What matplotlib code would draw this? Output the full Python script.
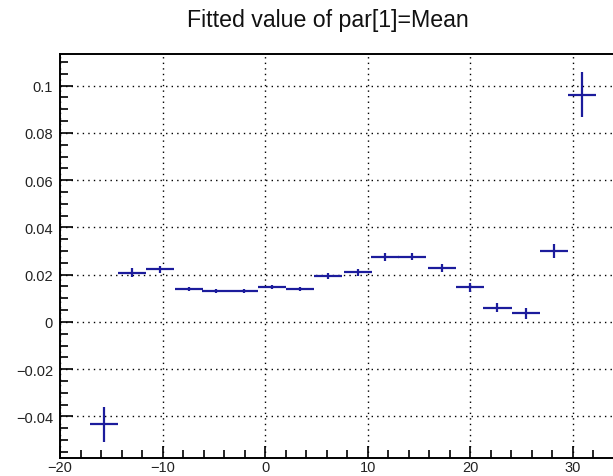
import matplotlib.pyplot as plt
from matplotlib.ticker import MultipleLocator

# bin centres, fitted mean and its error
centres = [-15.75, -12.97, -10.25, -7.45, -4.75, -2.05, 0.7, 3.4, 6.15,
           9.05, 11.7, 14.35, 17.25, 19.95, 22.65, 25.45, 28.2, 30.85]
half_width = [1.37] * len(centres)
means = [-0.0434, 0.0209, 0.0222, 0.0138, 0.0131, 0.0131, 0.0147, 0.0138, 0.0194,
         0.0211, 0.0275, 0.0275, 0.0229, 0.0146, 0.0061, 0.0037, 0.0301, 0.0962]
errors = [0.0074, 0.0020, 0.0015, 0.0009, 0.0009, 0.0008, 0.0009, 0.0008, 0.0012,
          0.0015, 0.0016, 0.0015, 0.0016, 0.0020, 0.0020, 0.0024, 0.0030, 0.0094]

plt.rcParams['font.family'] = ['Liberation Sans', 'DejaVu Sans']


def fmt(v, pos):
    if abs(v) < 1e-9:
        return "0"
    s = f"{abs(v):g}"
    return ("\u2212" + s) if v < 0 else s


fig = plt.figure(figsize=(6.13, 4.77), dpi=100)
ax = fig.add_axes([60 / 613, 18 / 477, 559 / 613, 404 / 477])

ax.errorbar(centres, means, xerr=half_width, yerr=errors, fmt='none',
            ecolor='#1c1c9c', elinewidth=1.6, capsize=0, zorder=3)

ax.set_xlim(-20, 34.5)
ax.set_ylim(-0.0576, 0.1134)

ax.xaxis.set_major_locator(MultipleLocator(10))
ax.xaxis.set_minor_locator(MultipleLocator(2))
ax.yaxis.set_major_locator(MultipleLocator(0.02))
ax.yaxis.set_minor_locator(MultipleLocator(0.005))
ax.xaxis.set_major_formatter(plt.FuncFormatter(fmt))
ax.yaxis.set_major_formatter(plt.FuncFormatter(fmt))

ax.tick_params(which='both', direction='in', top=False, right=False,
               labelsize=10.5, labelcolor='#222222', width=1.2)
ax.tick_params(which='major', length=9)
ax.tick_params(which='minor', length=6)
ax.tick_params(axis='y', which='major', pad=5)
ax.tick_params(axis='x', which='major', pad=1.5)

ax.grid(True, which='major', color='black', linestyle=(0, (1, 3)), linewidth=1.0)
for s in ax.spines.values():
    s.set_linewidth(1.4)

fig.text(328 / 613, 1 - 20 / 477, "Fitted value of par[1]=Mean", ha='center', va='center',
         fontsize=16.7, color='#111111')

fig.savefig("out.png", dpi=100)
